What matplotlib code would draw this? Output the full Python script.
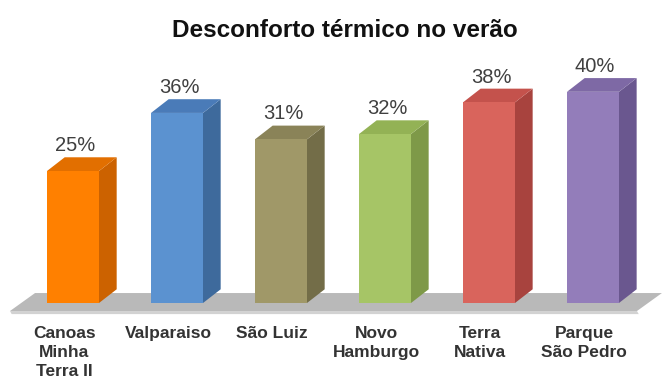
import matplotlib
matplotlib.use("Agg")
import matplotlib.pyplot as plt
from matplotlib.patches import Polygon, Rectangle

plt.rcParams['font.family'] = ['Liberation Sans', 'DejaVu Sans']

# dados
bairros = ["Canoas\nMinha\nTerra II", "Valparaiso", "São Luiz",
           "Novo\nHamburgo", "Terra\nNativa", "Parque\nSão Pedro"]
valores = [25, 36, 31, 32, 38, 40]
rotulos = ["25%", "36%", "31%", "32%", "38%", "40%"]
titulo = "Desconforto térmico no verão"

cor_frente = ["#FF8000", "#5B92D0", "#A09868", "#A6C566", "#D9645C", "#937DBA"]
cor_lado = ["#CC6200", "#3E6A9C", "#736D48", "#7E9948", "#A8433E", "#6A578F"]
cor_topo = ["#E26F00", "#4A7BB8", "#8A8358", "#93B255", "#C4524C", "#7E69A5"]

largura = 0.5
dx = 0.17   # profundidade (x)
dy = 2.6    # profundidade (y)

fig = plt.figure(figsize=(6.64, 3.83), dpi=100)
ax = fig.add_axes([0, 0, 1, 1])
ax.set_xlim(-0.702, 5.683)
ax.set_ylim(-15.15, 57.39)
ax.axis('off')

# piso
piso = Polygon([(-0.606, -1.52), (5.423, -1.52), (5.663, 1.89), (-0.365, 1.89)],
               closed=True, facecolor="#B9B9B9", edgecolor="none", zorder=1)
ax.add_patch(piso)
borda = Polygon([(-0.606, -1.52), (5.423, -1.52), (5.44, -2.1), (-0.59, -2.1)],
                closed=True, facecolor="#D2D2D2", edgecolor="none", zorder=1)
ax.add_patch(borda)

for i, v in enumerate(valores):
    x0 = i - largura / 2
    x1 = i + largura / 2
    ax.add_patch(Rectangle((x0, 0), largura, v, facecolor=cor_frente[i],
                           edgecolor="none", zorder=3))
    ax.add_patch(Polygon([(x1, 0), (x1 + dx, dy), (x1 + dx, v + dy), (x1, v)],
                         closed=True, facecolor=cor_lado[i], edgecolor="none", zorder=2))
    ax.add_patch(Polygon([(x0, v), (x1, v), (x1 + dx, v + dy), (x0 + dx, v + dy)],
                         closed=True, facecolor=cor_topo[i], edgecolor="none", zorder=2))
    ax.text(i + 0.02, v + dy + 0.4, rotulos[i], ha='center', va='bottom',
            fontsize=14.5, color="#404040")
    ax.text(i - 0.085, -4.3, bairros[i], ha='center', va='top', fontsize=12.5,
            fontweight='bold', color="#333333", linespacing=1.35)

fig.text(345 / 664, 1 - 37 / 383, titulo, ha='center', va='baseline',
         fontsize=17.5, fontweight='bold', color="#111111")

fig.savefig("out.png", dpi=100)
